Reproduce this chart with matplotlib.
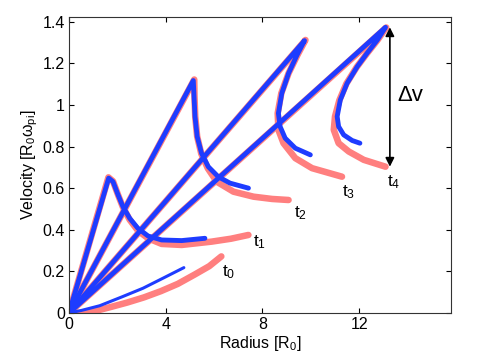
import matplotlib
matplotlib.use("Agg")
import matplotlib.pyplot as plt

plt.rcParams['font.family'] = ['Liberation Sans', 'DejaVu Sans']
plt.rcParams['mathtext.fontset'] = 'custom'
plt.rcParams['mathtext.rm'] = 'Liberation Sans'
plt.rcParams['mathtext.it'] = 'Liberation Sans'

# ---- data ----
t0_blue_x = [0, 0.5, 1.27, 2.2, 3.06, 3.9, 4.75]
t0_blue_y = [0, 0.012, 0.035, 0.078, 0.119, 0.168, 0.218]
t0_pink_x = [0, 0.6, 1.1, 1.7, 2.4, 3.1, 3.8, 4.5, 5.2, 5.8, 6.3]
t0_pink_y = [0, 0.0, 0.01, 0.028, 0.05, 0.075, 0.105, 0.14, 0.185, 0.225, 0.272]

t1_blue_x = [0, 1.64, 1.82, 2.03, 2.23, 2.51, 2.85, 3.27, 3.83, 4.66, 5.62]
t1_blue_y = [0, 0.648, 0.631, 0.567, 0.511, 0.455, 0.407, 0.37, 0.351, 0.348, 0.359]
t1_pink_x = [0, 1.63, 1.82, 2.03, 2.23, 2.51, 2.85, 3.27, 3.83, 4.66, 5.9, 6.7, 7.42]
t1_pink_y = [0, 0.652, 0.633, 0.567, 0.508, 0.448, 0.396, 0.359, 0.332, 0.327, 0.343, 0.357, 0.375]

t2_blue_x = [0, 5.14, 5.17, 5.21, 5.30, 5.48, 5.76, 6.17, 6.66, 7.42]
t2_blue_y = [0, 1.117, 1.04, 0.944, 0.848, 0.768, 0.703, 0.655, 0.624, 0.60]
t2_pink_x = [0, 5.18, 5.19, 5.22, 5.30, 5.47, 5.74, 6.11, 6.8, 7.63, 8.4, 9.08]
t2_pink_y = [0, 1.122, 1.04, 0.944, 0.848, 0.765, 0.695, 0.631, 0.583, 0.559, 0.548, 0.543]

t3_blue_x = [0, 9.74, 9.43, 9.08, 8.8, 8.66, 8.73, 8.94, 9.36, 9.98]
t3_blue_y = [0, 1.309, 1.24, 1.152, 1.056, 0.96, 0.896, 0.84, 0.792, 0.76]
t3_pink_x = [0, 9.78, 9.45, 9.08, 8.78, 8.63, 8.66, 8.87, 9.36, 10.05, 11.29]
t3_pink_y = [0, 1.312, 1.24, 1.152, 1.056, 0.96, 0.88, 0.816, 0.744, 0.696, 0.655]

t4_blue_x = [0, 13.09, 12.75, 12.33, 11.92, 11.5, 11.22, 11.09, 11.15, 11.36, 11.71, 12.03]
t4_blue_y = [0, 1.373, 1.312, 1.249, 1.184, 1.104, 1.024, 0.944, 0.896, 0.856, 0.829, 0.816]
t4_pink_x = [0, 13.12, 12.75, 12.32, 11.9, 11.47, 11.18, 11.0, 10.95, 11.15, 11.57, 12.19, 13.09]
t4_pink_y = [0, 1.372, 1.310, 1.247, 1.182, 1.102, 1.022, 0.944, 0.88, 0.816, 0.776, 0.736, 0.703]

labels = ['t$_0$', 't$_1$', 't$_2$', 't$_3$', 't$_4$']
label_x = [6.31, 7.61, 9.29, 11.29, 13.16]
label_y = [0.175, 0.319, 0.46, 0.559, 0.607]

dv_x = 13.27
dv_top = 1.373
dv_bottom = 0.703

# ---- figure ----
fig = plt.figure(figsize=(4.85, 3.64), dpi=100)
ax = fig.add_axes([0.1423, 0.1401, 0.930 - 0.1423, 0.9525 - 0.1401])

pink = '#FF7F7F'
blue = '#1E3CFF'
pinks = [(t0_pink_x, t0_pink_y), (t1_pink_x, t1_pink_y), (t2_pink_x, t2_pink_y),
         (t3_pink_x, t3_pink_y), (t4_pink_x, t4_pink_y)]
blues = [(t0_blue_x, t0_blue_y), (t1_blue_x, t1_blue_y), (t2_blue_x, t2_blue_y),
         (t3_blue_x, t3_blue_y), (t4_blue_x, t4_blue_y)]
for x, y in pinks:
    ax.plot(x, y, color=pink, lw=4.7, solid_joinstyle='round', solid_capstyle='round')
for i, (x, y) in enumerate(blues):
    ax.plot(x, y, color=blue, lw=3.5 if i > 0 else 2.2,
            solid_joinstyle='round', solid_capstyle='round')

for s, x, y in zip(labels, label_x, label_y):
    ax.text(x, y, s, fontsize=12.5, ha='left', va='baseline')

ax.annotate('', xy=(dv_x, dv_top), xytext=(dv_x, dv_bottom),
            arrowprops=dict(arrowstyle='<|-|>', color='k', lw=1.2,
                            mutation_scale=13, shrinkA=0, shrinkB=0))
ax.text(dv_x + 0.3, 1.045, 'Δv', fontsize=16, ha='left', va='center')

ax.set_xlim(0, 15.8)
ax.set_ylim(0, 1.421)
ax.set_xticks([0, 4, 8, 12])
ax.set_xticklabels(['0', '4', '8', '12'])
ax.set_yticks([0, 0.2, 0.4, 0.6, 0.8, 1.0, 1.2, 1.4])
ax.set_yticklabels(['0', '0.2', '0.4', '0.6', '0.8', '1', '1.2', '1.4'])
ax.tick_params(direction='in', length=3.5, width=0.8, top=True, right=True,
               labelsize=11.5, pad=3, colors='k')
for sp in ax.spines.values():
    sp.set_linewidth(0.8)
    sp.set_color('#333333')

ax.set_xlabel(r'Radius [R$_0$]', fontsize=11.5, labelpad=1)
ax.set_ylabel('Velocity [R$_0$ω$_{pi}$]', fontsize=11.5, labelpad=2)

fig.savefig('out.png', dpi=100)
